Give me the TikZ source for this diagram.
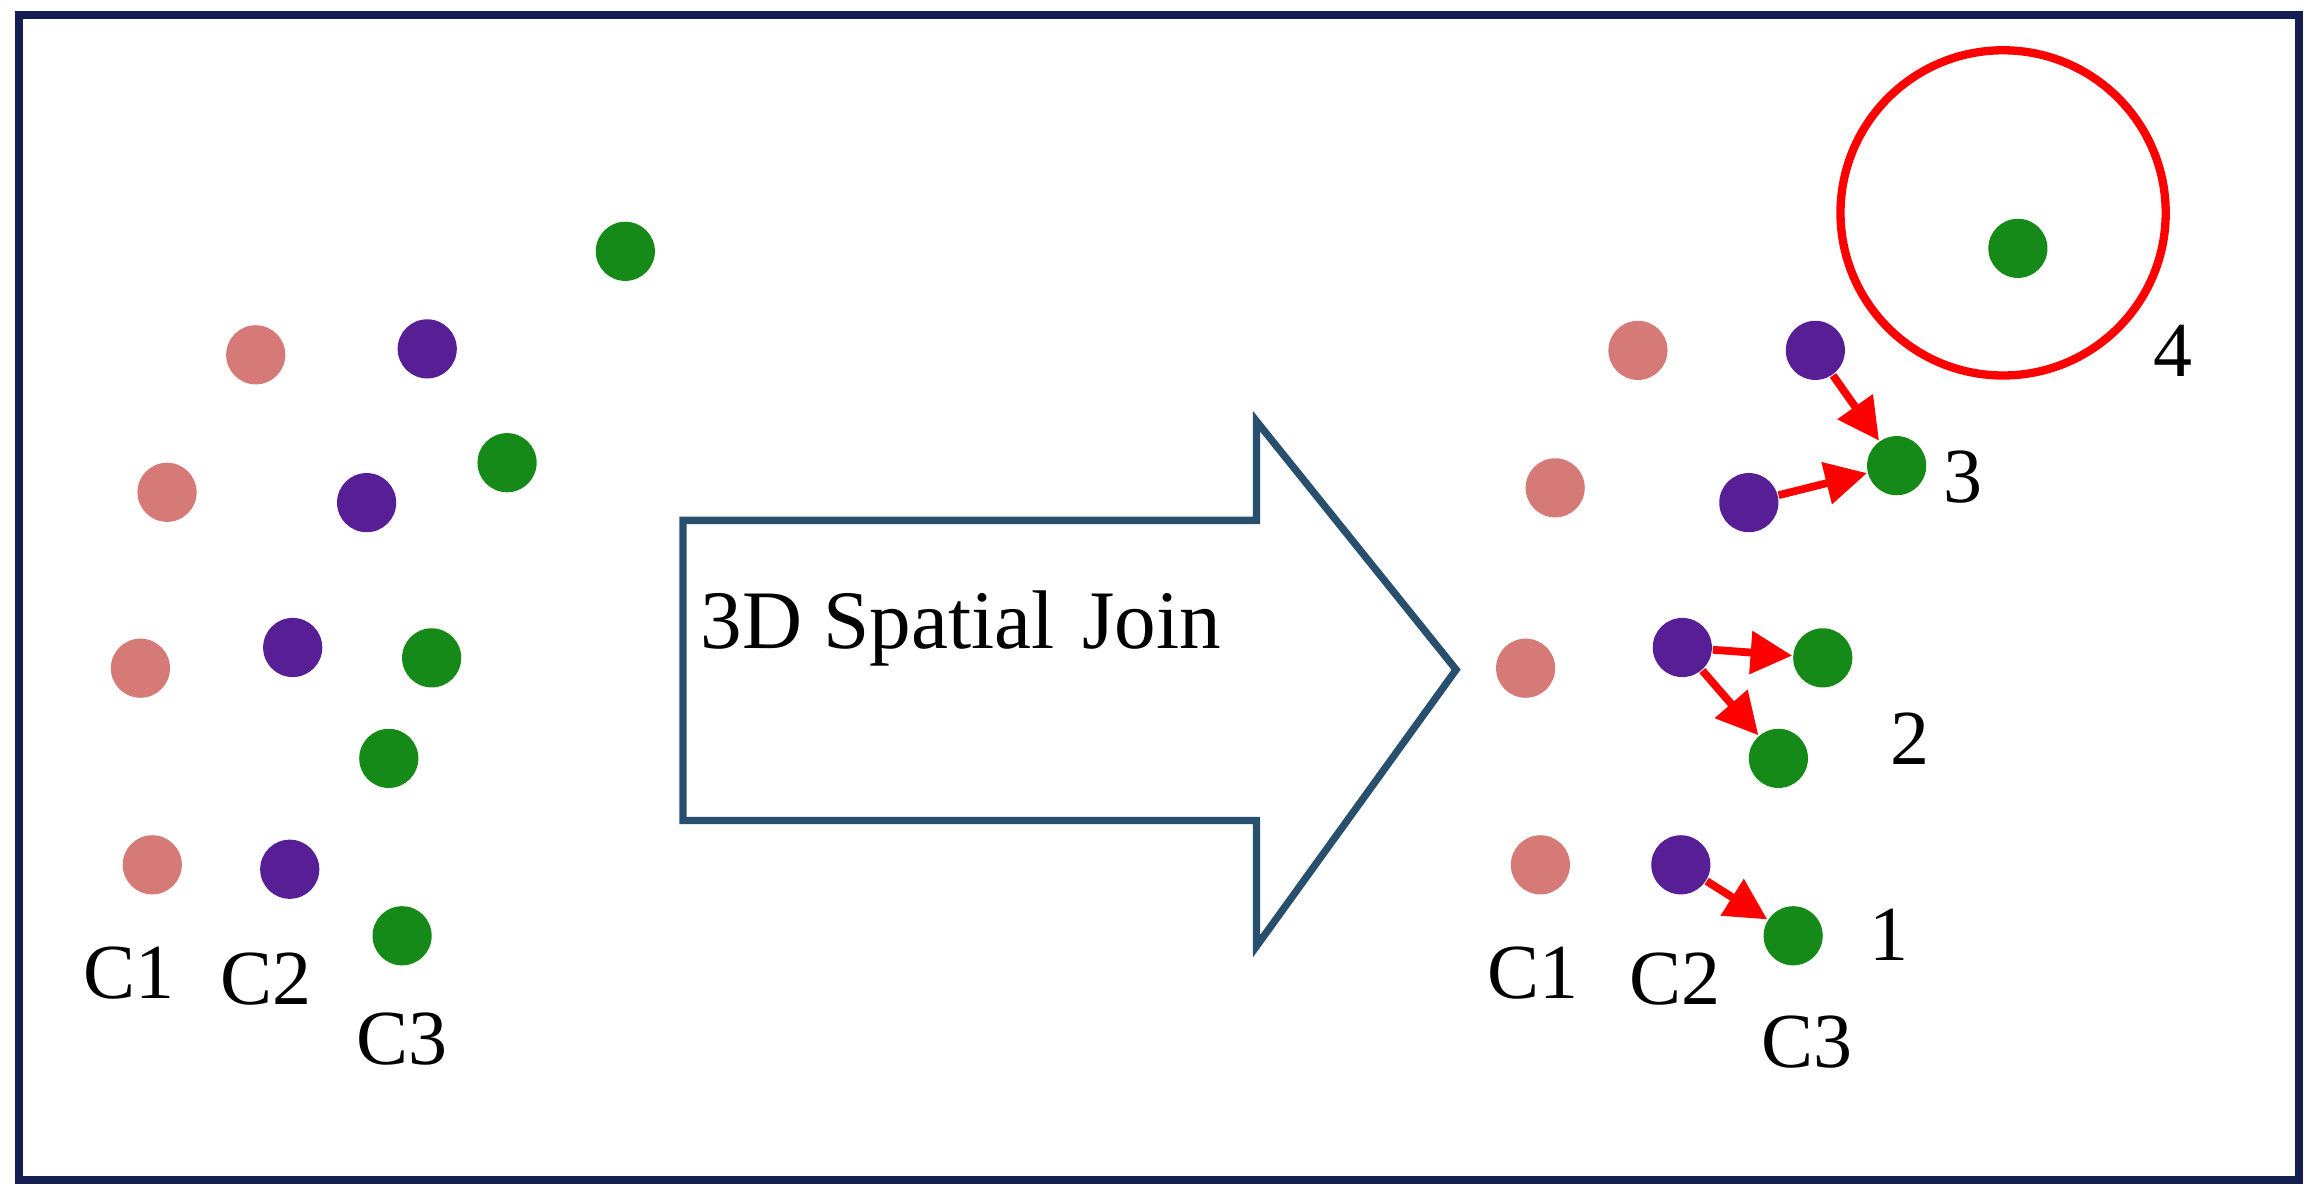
\documentclass[tikz,border=0pt]{standalone}
\usepackage{fontspec}
\setmainfont{Liberation Serif}
\usetikzlibrary{arrows.meta}
\definecolor{dotpink}{RGB}{214,122,120}
\definecolor{dotpurple}{RGB}{88,30,150}
\definecolor{dotgreen}{RGB}{22,138,24}
\definecolor{framenavy}{RGB}{20,30,80}
\definecolor{arrowblue}{RGB}{40,80,110}
\tikzset{
  c1/.style    = {circle, inner sep=0pt, minimum size=0.4cm, fill=dotpink},
  c2/.style    = {circle, inner sep=0pt, minimum size=0.4cm, fill=dotpurple},
  c3/.style    = {circle, inner sep=0pt, minimum size=0.4cm, fill=dotgreen},
  lbl/.style   = {font=\fontsize{15}{17}\selectfont},
  pairs/.style = {red, line width=1.5pt, -{Triangle[length=8pt,width=8pt]}, shorten >=0pt}
}
\begin{document}
\begin{tikzpicture}[x=0.01cm,y=-0.01cm]
  \useasboundingbox (0,0) rectangle (1568,809);
  \draw[framenavy, line width=1.6pt] (13,10) rectangle (1555,798);
  % left group
  \node[c1] (la1) at (173,240) {};
  \node[c1] (la2) at (113,333) {};
  \node[c1] (la3) at (95,452)  {};
  \node[c1] (la4) at (103,585) {};
  \node[c2] (lb1) at (289,236) {};
  \node[c2] (lb2) at (248,340) {};
  \node[c2] (lb3) at (198,438) {};
  \node[c2] (lb4) at (196,588) {};
  \node[c3] (lc1) at (423,170) {};
  \node[c3] (lc2) at (343,313) {};
  \node[c3] (lc3) at (292,445) {};
  \node[c3] (lc4) at (263,513) {};
  \node[c3] (lc5) at (272,633) {};
  \node[lbl] (lt1) at (87,658)  {C1};
  \node[lbl] (lt2) at (180,662) {C2};
  \node[lbl] (lt3) at (272,703) {C3};
  % big arrow
  \draw[arrowblue, line width=1.4pt, fill=white]
    (462,352) -- (850,352) -- (850,285) -- (985,453) -- (850,640)
    -- (850,555) -- (462,555) -- cycle;
  \node[lbl, font=\fontsize{16}{18}\selectfont] (op) at (650,425) {3D Spatial\,\,Join};
  % right group
  \node[c1] (ra1) at (1108,237) {};
  \node[c1] (ra2) at (1052,330) {};
  \node[c1] (ra3) at (1032,452) {};
  \node[c1] (ra4) at (1042,585) {};
  \node[c2] (rb1) at (1228,237) {};
  \node[c2] (rb2) at (1183,340) {};
  \node[c2] (rb3) at (1138,438) {};
  \node[c2] (rb4) at (1137,585) {};
  \node[c3] (rc1) at (1365,168) {};
  \node[c3] (rc2) at (1283,315) {};
  \node[c3] (rc3) at (1233,445) {};
  \node[c3] (rc4) at (1203,513) {};
  \node[c3] (rc5) at (1213,633) {};
  \coordinate (range) at (1355,144);
  \draw[red, line width=1.6pt] (range) circle (110);
  \draw[pairs] (rb1) -- (rc2);
  \draw[pairs] (rb2) -- (rc2);
  \draw[pairs] (rb3) -- (rc3);
  \draw[pairs] (rb3) -- (rc4);
  \draw[pairs] (rb4) -- (rc5);
  \node[lbl] (rt1) at (1037,658) {C1};
  \node[lbl] (rt2) at (1133,662) {C2};
  \node[lbl] (rt3) at (1222,705) {C3};
  \node[lbl] (n1) at (1278,632) {1};
  \node[lbl] (n2) at (1292,500) {2};
  \node[lbl] (n3) at (1328,323) {3};
  \node[lbl] (n4) at (1470,237) {4};
\end{tikzpicture}
\end{document}
